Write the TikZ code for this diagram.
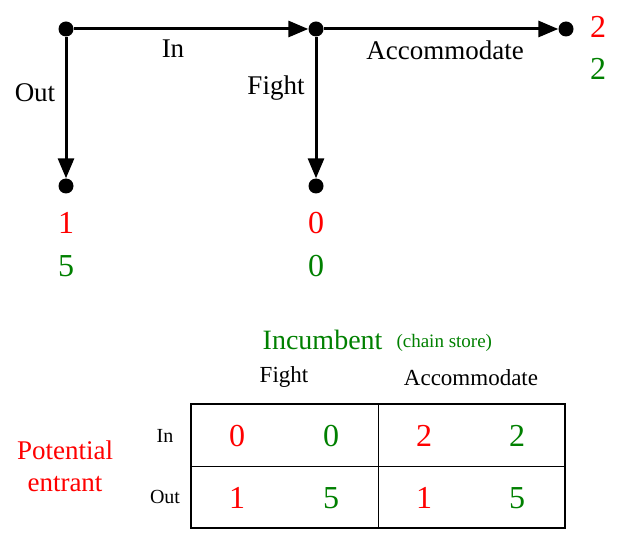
\documentclass[tikz,border=0pt]{standalone}
\usepackage{fontspec}
\setmainfont{Liberation Serif}
\usetikzlibrary{arrows.meta}
\definecolor{pgreen}{RGB}{0,128,0}
\tikzset{
  dot/.style={circle, fill=black, inner sep=0pt, minimum size=15pt},
  move/.style={line width=3pt, -{Triangle[length=20pt,width=16pt]}},
  lab/.style={font=\fontsize{27}{30}\selectfont},
  pay/.style={font=\fontsize{32}{36}\selectfont},
  hdr/.style={font=\fontsize{23}{26}\selectfont},
}
\begin{document}
\begin{tikzpicture}[x=1pt,y=-1pt]
    \useasboundingbox (0,0) rectangle (620,537);
    % game tree
    \node[dot] (root) at (66,29) {};
    \node[dot] (inc) at (316,29) {};
    \node[dot] (acc) at (566,29) {};
    \node[dot] (out) at (66,186) {};
    \node[dot] (fight) at (316,186) {};
    \draw[move] (root) -- (inc);
    \draw[move] (inc) -- (acc);
    \draw[move] (root) -- (out);
    \draw[move] (inc) -- (fight);
    \node[lab] (lin) at (173,49) {In};
    \node[lab] (lacc) at (445,50) {Accommodate};
    \node[lab] (lout) at (35,93) {Out};
    \node[lab] (lfight) at (276,88) {Fight};
    % payoffs
    \node[pay, red] at (598,27) {2};
    \node[pay, pgreen] at (598,69) {2};
    \node[pay, red] at (66,223) {1};
    \node[pay, pgreen] at (66,266) {5};
    \node[pay, red] at (316,223) {0};
    \node[pay, pgreen] at (316,266) {0};
    % normal form
    \draw[line width=2pt] (191,404) rectangle (565,528);
    \draw[line width=0.6pt] (378,404) -- (378,528) (191,466) -- (565,466);
    \node[pay, red] at (237,436) {0};
    \node[pay, pgreen] at (331,436) {0};
    \node[pay, red] at (424,436) {2};
    \node[pay, pgreen] at (517,436) {2};
    \node[pay, red] at (237,498) {1};
    \node[pay, pgreen] at (331,498) {5};
    \node[pay, red] at (424,498) {1};
    \node[pay, pgreen] at (517,498) {5};
    \node[hdr] at (284,377) {Fight};
    \node[hdr] at (471,378) {Accommodate};
    \node[hdr, font=\fontsize{20}{22}\selectfont] at (165,436) {In};
    \node[hdr, font=\fontsize{20}{22}\selectfont] at (165,497) {Out};
    \node[red, font=\fontsize{27}{30}\selectfont, align=center] at (65,466) {Potential\\[2pt]entrant};
    \node[pgreen, font=\fontsize{28}{30}\selectfont, anchor=east] at (386,340) {Incumbent};
    \node[pgreen, font=\fontsize{19}{22}\selectfont, anchor=west] at (393,343) {(chain store)};
\end{tikzpicture}
\end{document}
